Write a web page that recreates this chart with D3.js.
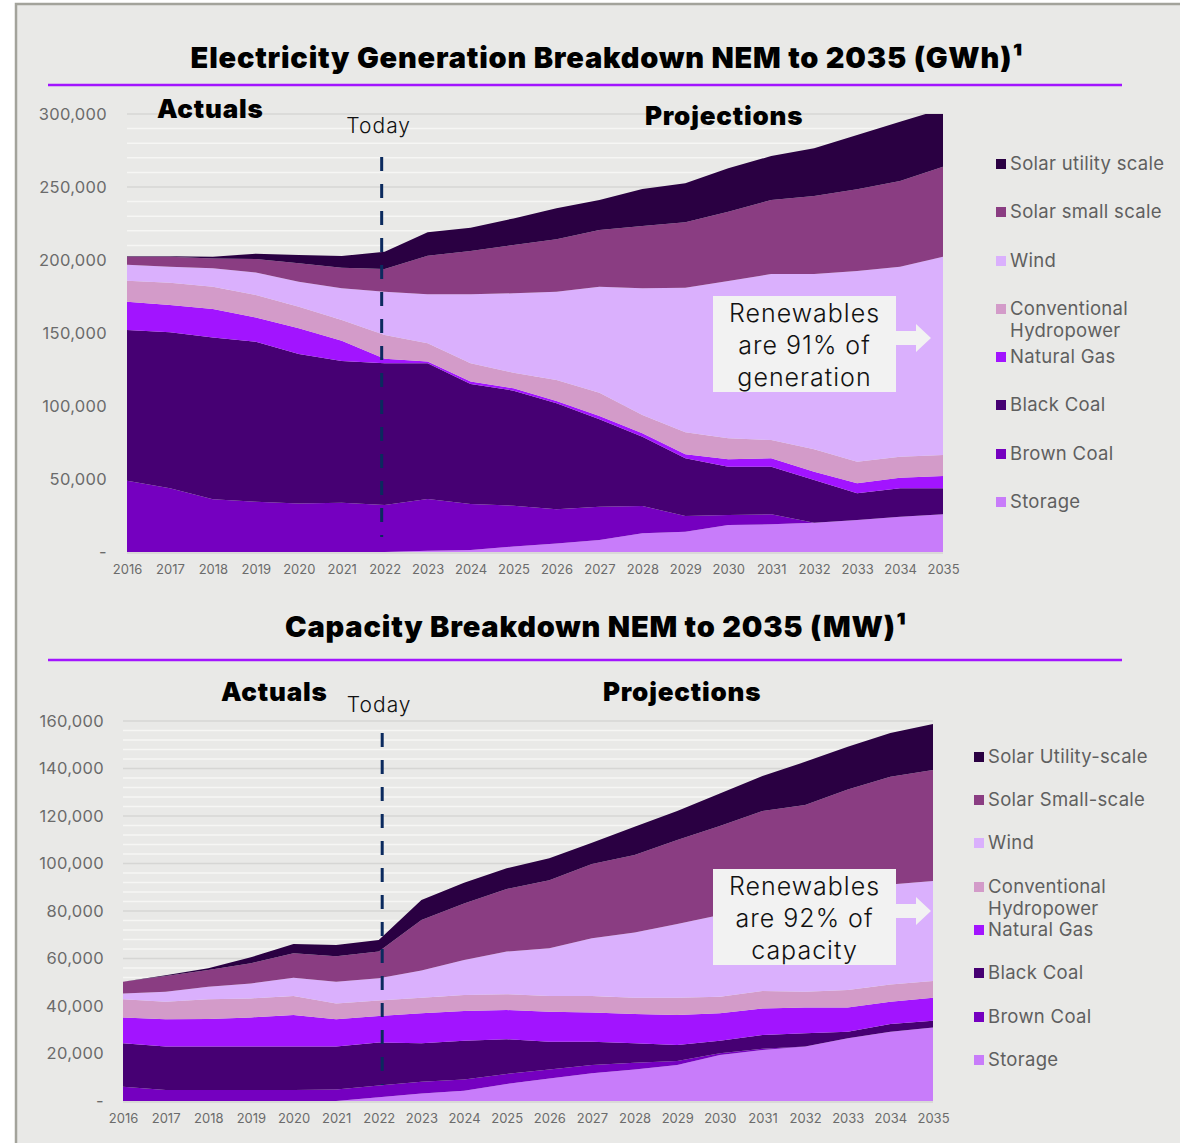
<!DOCTYPE html>
<html>
<head>
<meta charset="utf-8">
<script src="https://cdn.jsdelivr.net/npm/d3@7"></script>
<style>
  html, body { margin: 0; padding: 0; background: #ffffff; }
  svg { display: block; font-family: Inter, Roboto, "Noto Sans", sans-serif; }
</style>
</head>
<body>
<svg id="root" width="1180" height="1143"></svg>
<script>
// ---- shared categories ----
const years = [2016, 2017, 2018, 2019, 2020, 2021, 2022, 2023, 2024, 2025,
               2026, 2027, 2028, 2029, 2030, 2031, 2032, 2033, 2034, 2035];

// stack order, bottom to top
const seriesKeys = ["storage", "brownCoal", "blackCoal", "naturalGas", "hydro", "wind", "solarSmall", "solarUtility"];
const seriesColors = ["#c87cfa", "#7500c0", "#460073", "#a214ff", "#d39bc9", "#dab0fd", "#8a3d82", "#2a0042"];

// legend order (top to bottom)
const legendOrder = ["solarUtility", "solarSmall", "wind", "hydro", "naturalGas", "blackCoal", "brownCoal", "storage"];
const genLegendLabels = ["Solar utility scale", "Solar small scale", "Wind", "Conventional|Hydropower",
                         "Natural Gas", "Black Coal", "Brown Coal", "Storage"];
const capLegendLabels = ["Solar Utility-scale", "Solar Small-scale", "Wind", "Conventional|Hydropower",
                         "Natural Gas", "Black Coal", "Brown Coal", "Storage"];

// ---- electricity generation, GWh ----
const genStorage      = [0, 0, 0, 0, 0, 0, 0, 900, 1400, 3700, 5900, 8200, 12800, 13900, 18500, 19000, 20100, 21900, 24200, 25800];
const genBrownCoal    = [48800, 43600, 36100, 34500, 33300, 33800, 32200, 35400, 31500, 28000, 23300, 22800, 18700, 10800, 6800, 6800, 0, 0, 0, 0];
const genBlackCoal    = [103200, 106900, 110900, 109500, 102300, 97000, 97000, 92900, 82200, 78800, 72600, 59900, 47500, 39500, 33100, 32600, 29200, 18300, 19400, 17800];
const genNaturalGas   = [19400, 18700, 19400, 16700, 17600, 13900, 3200, 1200, 1600, 1600, 1600, 2300, 2300, 2700, 5100, 5800, 5700, 6900, 7300, 8400];
const genHydro        = [14400, 15300, 15300, 15300, 14800, 14200, 16200, 12500, 12500, 10700, 14400, 15900, 12500, 15100, 14400, 12500, 15300, 14700, 14400, 14400];
const genWind         = [11000, 10900, 12600, 15500, 17100, 21700, 29700, 33600, 47300, 54400, 60500, 72600, 86800, 99000, 107700, 113700, 120100, 130700, 130100, 135900];
const genSolarSmall   = [5500, 6900, 6800, 9200, 12600, 14100, 15500, 26400, 29700, 33100, 35900, 38800, 42700, 44800, 47500, 50700, 53400, 55900, 58700, 61600];
const genSolarUtility = [200, 200, 1200, 3600, 5700, 8000, 11900, 16100, 15900, 18200, 21200, 20600, 25300, 26700, 29700, 30100, 32700, 37200, 40600, 39700];
const genTicks = [0, 50000, 100000, 150000, 200000, 250000, 300000];

// ---- capacity, MW ----
const capStorage      = [0, 0, 0, 0, 0, 0, 1600, 3200, 4300, 7200, 9500, 11700, 13300, 15200, 19400, 21500, 22900, 26400, 29200, 30900];
const capBrownCoal    = [6000, 4600, 4600, 4600, 4600, 4800, 4900, 4900, 4800, 4200, 3800, 3500, 2800, 1600, 700, 500, 0, 0, 0, 0];
const capBlackCoal    = [18300, 18300, 18300, 18300, 18300, 18100, 18100, 16200, 16300, 14600, 11700, 9800, 8200, 6800, 5300, 5800, 5600, 2800, 3200, 2900];
const capNaturalGas   = [10900, 11500, 11600, 12300, 13300, 11500, 11200, 12600, 12500, 12300, 12600, 12300, 12300, 12600, 11500, 11200, 10900, 10200, 9400, 9700];
const capHydro        = [7600, 7400, 8300, 8000, 8000, 6700, 6500, 6600, 6700, 6700, 6600, 6900, 6900, 7300, 7000, 7300, 6600, 7300, 7300, 7000];
const capWind         = [2500, 4200, 5300, 6300, 7700, 9100, 9400, 11400, 14800, 17900, 20100, 24300, 27500, 31000, 34400, 35800, 39300, 42400, 42100, 42100];
const capSolarSmall   = [4900, 6600, 7100, 8500, 10300, 10800, 11200, 21300, 23800, 26400, 28700, 31300, 32600, 35400, 37500, 40000, 39300, 42100, 45300, 46800];
const capSolarUtility = [0, 300, 700, 2500, 3900, 4700, 4900, 8400, 8700, 8700, 9200, 8900, 11900, 12200, 13700, 14700, 18200, 18000, 18500, 19300];
const capTicks = [0, 20000, 40000, 60000, 80000, 100000, 120000, 140000, 160000];

function buildRows(cols) {
  return years.map((yr, i) => {
    const row = { year: yr };
    seriesKeys.forEach((k, j) => { row[k] = cols[j][i]; });
    return row;
  });
}

const genRows = buildRows([genStorage, genBrownCoal, genBlackCoal, genNaturalGas, genHydro, genWind, genSolarSmall, genSolarUtility]);
const capRows = buildRows([capStorage, capBrownCoal, capBlackCoal, capNaturalGas, capHydro, capWind, capSolarSmall, capSolarUtility]);

const svg = d3.select("#root");
const colorOf = d3.scaleOrdinal().domain(seriesKeys).range(seriesColors);

// panel background with frame
svg.append("rect").attr("x", 16).attr("y", 4).attr("width", 1200).attr("height", 1200)
  .attr("fill", "#e9e9e7").attr("stroke", "#a3a39b").attr("stroke-width", 2.5);

function drawChart(cfg) {
  const g = svg.append("g");

  // title and purple rule
  g.append("text").attr("x", cfg.titleX).attr("y", cfg.titleY)
    .attr("text-anchor", "middle").attr("font-size", 29).attr("font-weight", 900)
    .attr("letter-spacing", 0.8).attr("fill", "#000").text(cfg.title);
  g.append("line").attr("x1", 48).attr("x2", 1122).attr("y1", cfg.ruleY).attr("y2", cfg.ruleY)
    .attr("stroke", "#a214ff").attr("stroke-width", 2.5);

  const x = d3.scaleLinear().domain([years[0], years[years.length - 1]]).range([cfg.left, cfg.right]);
  const y = d3.scaleLinear().domain([0, cfg.max]).range([cfg.bottom, cfg.top]);

  // gridlines: minor (light) then major (darker)
  const minor = d3.range(cfg.minorStep, cfg.max + 1, cfg.minorStep).filter(v => v % cfg.majorStep !== 0);
  g.append("g").selectAll("line").data(minor).join("line")
    .attr("x1", cfg.left).attr("x2", cfg.right)
    .attr("y1", d => y(d)).attr("y2", d => y(d))
    .attr("stroke", "#f6f6f4").attr("stroke-width", 1.5);
  g.append("g").selectAll("line").data(cfg.ticks.filter(v => v > 0)).join("line")
    .attr("x1", cfg.left).attr("x2", cfg.right)
    .attr("y1", d => y(d)).attr("y2", d => y(d))
    .attr("stroke", "#d6d6d4").attr("stroke-width", 1.5);
  g.append("line").attr("x1", cfg.left).attr("x2", cfg.right)
    .attr("y1", cfg.bottom + 1).attr("y2", cfg.bottom + 1)
    .attr("stroke", "#d9d9d7").attr("stroke-width", 2);

  // stacked areas
  const stack = d3.stack().keys(seriesKeys);
  const layers = stack(cfg.rows);
  const area = d3.area()
    .x(d => x(d.data.year))
    .y0(d => y(d[0]))
    .y1(d => y(d[1]));
  const clipId = "clip-" + cfg.id;
  g.append("clipPath").attr("id", clipId).append("rect")
    .attr("x", cfg.left).attr("y", cfg.top).attr("width", cfg.right - cfg.left).attr("height", cfg.bottom - cfg.top);
  g.append("g").attr("clip-path", `url(#${clipId})`)
    .selectAll("path").data(layers).join("path")
    .attr("d", area).attr("fill", d => colorOf(d.key));

  // y axis
  const yAxis = d3.axisLeft(y).tickValues(cfg.ticks).tickSize(0).tickPadding(cfg.yPad)
    .tickFormat(d => d === 0 ? "-" : d3.format(",")(d));
  const ya = g.append("g").attr("transform", `translate(${cfg.left},0)`).call(yAxis);
  ya.select(".domain").remove();
  ya.selectAll("text").attr("font-size", 16.5).attr("letter-spacing", 0.3).attr("fill", "#6b6b6b")
    .attr("font-family", "Inter, sans-serif");

  // x axis
  const xAxis = d3.axisBottom(x).tickValues(years).tickSize(0).tickPadding(cfg.xPad).tickFormat(d3.format("d"));
  const xa = g.append("g").attr("transform", `translate(0,${cfg.bottom})`).call(xAxis);
  xa.select(".domain").remove();
  xa.selectAll("text").attr("font-size", 13).attr("fill", "#6b6b6b")
    .attr("font-family", "Inter, sans-serif");

  // Actuals / Projections headings
  cfg.headings.forEach(h => {
    g.append("text").attr("x", h.x).attr("y", h.y).attr("font-size", 26).attr("font-weight", 900)
      .attr("letter-spacing", 0.8).attr("fill", "#000").text(h.text);
  });

  // today marker
  const tx = x(cfg.todayAt);
  g.append("text").attr("x", tx - 3).attr("y", cfg.todayLabelY).attr("text-anchor", "middle")
    .attr("font-size", 21).attr("font-weight", 300).attr("letter-spacing", 1)
    .attr("fill", "#111").text("Today");
  g.append("line").attr("x1", tx).attr("x2", tx).attr("y1", cfg.dashTop).attr("y2", cfg.dashBottom)
    .attr("stroke", "#0b2a5e").attr("stroke-width", 3).attr("stroke-dasharray", "14,13");

  // renewables callout with arrow
  const bx = 713, bw = 183, bh = 96;
  g.append("rect").attr("x", bx).attr("y", cfg.boxY).attr("width", bw).attr("height", bh).attr("fill", "#f2f2f2");
  const ay = cfg.boxY + cfg.arrowOff;
  g.append("path")
    .attr("d", `M${bx + bw},${ay - 7} L${bx + bw + 20},${ay - 7} L${bx + bw + 20},${ay - 14} L${bx + bw + 35},${ay} L${bx + bw + 20},${ay + 14} L${bx + bw + 20},${ay + 7} L${bx + bw},${ay + 7} Z`)
    .attr("fill", "#f2f2f2");
  cfg.callout.forEach((line, i) => {
    g.append("text").attr("x", bx + bw / 2).attr("y", cfg.boxY + 26 + i * 32)
      .attr("text-anchor", "middle").attr("font-size", 25).attr("font-weight", 300)
      .attr("letter-spacing", 1).attr("fill", "#111").text(line);
  });

  // legend
  const lg = g.append("g");
  legendOrder.forEach((k, i) => {
    const ly = cfg.legendY[i];
    lg.append("rect").attr("x", cfg.legendX).attr("y", ly - 5).attr("width", 10).attr("height", 10)
      .attr("fill", colorOf(k));
    const parts = cfg.legendLabels[i].split("|");
    parts.forEach((p, j) => {
      lg.append("text").attr("x", cfg.legendX + 14).attr("y", ly + 6 + j * 22)
        .attr("font-size", 18.5).attr("letter-spacing", 0.3).attr("fill", "#5f5f5f").text(p);
    });
  });
}

drawChart({
  id: "gen",
  title: "Electricity Generation Breakdown NEM to 2035 (GWh)\u00b9",
  titleX: 607, titleY: 68, ruleY: 85,
  rows: genRows, max: 300000, ticks: genTicks, minorStep: 10000, majorStep: 50000,
  left: 127, right: 943, top: 114, bottom: 552,
  yPad: 20, xPad: 13,
  headings: [{ text: "Actuals", x: 157, y: 118 }, { text: "Projections", x: 645, y: 125 }],
  todayAt: 2021.93, todayLabelY: 133, dashTop: 157, dashBottom: 537,
  boxY: 296, arrowOff: 42,
  callout: ["Renewables", "are 91% of", "generation"],
  legendX: 996, legendY: [164, 212, 261, 309, 357, 405, 454, 502],
  legendLabels: genLegendLabels
});

drawChart({
  id: "cap",
  title: "Capacity Breakdown NEM to 2035 (MW)\u00b9",
  titleX: 596, titleY: 637, ruleY: 660,
  rows: capRows, max: 160000, ticks: capTicks, minorStep: 4000, majorStep: 20000,
  left: 123, right: 933, top: 721, bottom: 1101,
  yPad: 19, xPad: 13,
  headings: [{ text: "Actuals", x: 221, y: 701 }, { text: "Projections", x: 603, y: 701 }],
  todayAt: 2022.08, todayLabelY: 712, dashTop: 733, dashBottom: 1085,
  boxY: 869, arrowOff: 42,
  callout: ["Renewables", "are 92% of", "capacity"],
  legendX: 974, legendY: [757, 800, 843, 887, 930, 973, 1017, 1060],
  legendLabels: capLegendLabels
});
</script>
</body>
</html>
